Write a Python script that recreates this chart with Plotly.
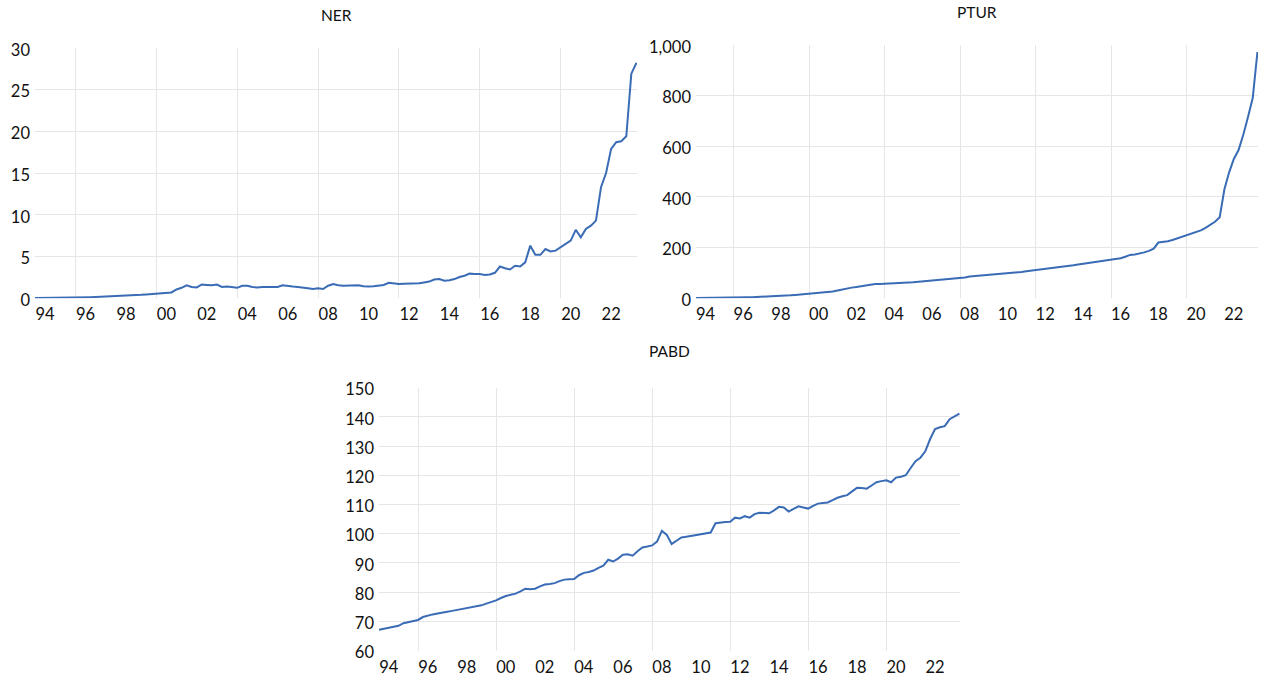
import plotly.graph_objects as go

# ---------------- data (quarterly) ----------------
years = list(range(1994, 2024))
quarters = [y + q / 4 for y in years for q in range(4)]

ner = [
    0.04, 0.04, 0.05, 0.05,   # 1994
    0.05, 0.06, 0.07, 0.08,   # 1995
    0.09, 0.10, 0.11, 0.12,   # 1996
    0.14, 0.16, 0.18, 0.20,   # 1997
    0.22, 0.25, 0.28, 0.32,   # 1998
    0.36, 0.41, 0.46, 0.51,   # 1999
    0.55, 0.60, 0.65, 0.70,   # 2000
    1.05, 1.25, 1.55, 1.35,   # 2001
    1.30, 1.65, 1.60, 1.55,   # 2002
    1.65, 1.35, 1.40, 1.35,   # 2003
    1.25, 1.50, 1.50, 1.35,   # 2004
    1.30, 1.35, 1.35, 1.35,   # 2005
    1.35, 1.55, 1.45, 1.40,   # 2006
    1.35, 1.30, 1.20, 1.10,   # 2007
    1.20, 1.10, 1.50, 1.70,   # 2008
    1.55, 1.50, 1.50, 1.50,   # 2009
    1.55, 1.45, 1.40, 1.45,   # 2010
    1.55, 1.60, 1.85, 1.80,   # 2011
    1.70, 1.75, 1.75, 1.75,   # 2012
    1.80, 1.90, 2.00, 2.25,   # 2013
    2.30, 2.10, 2.15, 2.30,   # 2014
    2.55, 2.70, 2.95, 2.90,   # 2015
    2.90, 2.80, 2.85, 3.05,   # 2016
    3.80, 3.60, 3.45, 3.90,   # 2017
    3.80, 4.30, 6.30, 5.20,   # 2018
    5.20, 5.90, 5.60, 5.70,   # 2019
    6.10, 6.60, 6.90, 8.20,   # 2020
    7.30, 8.30, 8.70, 9.30,   # 2021
    13.3, 15.0, 17.9, 18.7,   # 2022
    18.8, 19.4, 26.9, 28.2,   # 2023
]

ptur = [
    1.0, 1.0, 1.2, 1.4,       # 1994
    1.6, 1.8, 2.0, 2.3,       # 1995
    2.6, 3.0, 3.4, 3.9,       # 1996
    4.4, 5.0, 5.6, 6.3,       # 1997
    7.0, 8.0, 9.0, 10.0,      # 1998
    11.5, 13.0, 14.5, 16.0,   # 1999
    18.0, 19.5, 20.5, 22.0,   # 2000
    24.0, 27.0, 31.0, 35.0,   # 2001
    40.0, 42.0, 44.0, 47.0,   # 2002
    52.0, 54.0, 56.0, 56.5,   # 2003
    57.0, 58.0, 59.0, 60.0,   # 2004
    61.0, 62.0, 63.0, 64.5,   # 2005
    66.0, 68.0, 70.0, 71.5,   # 2006
    73.0, 74.5, 76.0, 77.5,   # 2007
    79.0, 82.0, 86.0, 87.5,   # 2008
    89.0, 90.0, 91.5, 93.0,   # 2009
    95.0, 97.0, 98.5, 100.0,  # 2010
    102.0, 104.0, 107.0, 109.0,  # 2011
    111.0, 113.0, 115.0, 117.0,  # 2012
    119.0, 122.0, 124.5, 127.0,  # 2013
    130.0, 133.0, 136.0, 139.0,  # 2014
    142.0, 144.5, 147.0, 150.0,  # 2015
    152.0, 155.0, 158.0, 164.0,  # 2016
    171.0, 173.0, 176.0, 181.0,  # 2017
    187.0, 196.0, 220.0, 222.0,  # 2018
    225.0, 230.0, 236.0, 242.0,  # 2019
    249.0, 254.0, 260.0, 268.0,  # 2020
    278.0, 290.0, 302.0, 320.0,  # 2021
    430.0, 497.0, 550.0, 585.0,  # 2022
    645.0, 715.0, 790.0, 972.0,  # 2023
]

pabd = [
    67.1, 67.5, 67.9, 68.3,   # 1994
    68.5, 69.4, 69.8, 70.2,   # 1995
    70.5, 71.5, 72.0, 72.4,   # 1996
    72.7, 73.1, 73.3, 73.6,   # 1997
    73.9, 74.1, 74.4, 74.7,   # 1998
    75.0, 75.5, 76.1, 76.6,   # 1999
    77.2, 78.0, 78.7, 79.1,   # 2000
    79.5, 80.3, 81.2, 81.0,   # 2001
    81.2, 82.0, 82.6, 82.8,   # 2002
    83.1, 83.8, 84.3, 84.4,   # 2003
    84.5, 85.8, 86.6, 86.9,   # 2004
    87.4, 88.3, 89.1, 91.1,   # 2005
    90.5, 91.5, 92.8, 93.0,   # 2006
    92.5, 94.0, 95.3, 95.6,   # 2007
    96.0, 97.3, 101.0, 99.6,  # 2008
    96.5, 97.6, 98.7, 99.0,   # 2009
    99.3, 99.6, 100.0, 100.2,  # 2010
    100.4, 103.6, 103.9, 104.0,  # 2011
    104.1, 105.5, 105.2, 106.0,  # 2012
    105.5, 106.7, 107.2, 107.1,  # 2013
    107.0, 108.0, 109.2, 109.0,  # 2014
    107.6, 108.5, 109.4, 109.0,  # 2015
    108.6, 109.5, 110.3, 110.5,  # 2016
    110.7, 111.5, 112.3, 112.8,  # 2017
    113.2, 114.5, 115.7, 115.6,  # 2018
    115.4, 116.5, 117.6, 118.0,  # 2019
    118.3, 117.6, 119.2, 119.5,  # 2020
    120.0, 122.5, 124.8, 126.0,  # 2021
    128.2, 132.4, 135.8, 136.4,  # 2022
    136.8, 139.2, 140.3, 141.1,  # 2023
]

tick_years = list(range(1994, 2024, 2))
tick_text = ["%02d" % (y % 100) for y in tick_years]
grid_years = list(range(1996, 2024, 4))

ner_ticks = [0, 5, 10, 15, 20, 25, 30]
ptur_ticks = [0, 200, 400, 600, 800, 1000]
pabd_ticks = [60, 70, 80, 90, 100, 110, 120, 130, 140, 150]

# ---------------- styling ----------------
W, H = 1267, 684
BLUE = "#3a6cb6"
GRID = "#e6e6e6"
FONT = "Lato"
TICKFONT = dict(family=FONT, size=16.5, color="#111111")


def px_x(p):
    return p / W


def px_y(p):
    return 1 - p / H


def xaxis(domain, anchor, standoff=4):
    return dict(
        domain=domain, anchor=anchor, range=[1994, 2023.78],
        tickmode="array", tickvals=[y + 0.5 for y in tick_years], ticktext=tick_text,
        showgrid=False, zeroline=False, showline=False, ticks="",
        tickfont=TICKFONT, ticklabelstandoff=standoff,
        minor=dict(tickmode="array", tickvals=grid_years, showgrid=True,
                   gridcolor=GRID, gridwidth=1, ticks=""),
    )


def yaxis(domain, anchor, ticks, rng, fmt=None):
    d = dict(
        domain=domain, anchor=anchor, range=rng,
        tickmode="array", tickvals=ticks,
        showgrid=False, zeroline=False, showline=False, ticks="",
        tickfont=TICKFONT, ticklabelstandoff=4, ticklabelshift=2,
        minor=dict(tickmode="array", tickvals=[t + 1e-7 for t in ticks[1:-1]],
                   showgrid=True, gridcolor=GRID, gridwidth=1, ticks=""),
    )
    if fmt:
        d["tickformat"] = fmt
    return d


fig = go.Figure()
line = dict(color=BLUE, width=2)
fig.add_trace(go.Scatter(x=quarters, y=ner, mode="lines", line=line, xaxis="x", yaxis="y", name="NER"))
fig.add_trace(go.Scatter(x=quarters, y=ptur, mode="lines", line=line, xaxis="x2", yaxis="y2", name="PTUR"))
fig.add_trace(go.Scatter(x=quarters, y=pabd, mode="lines", line=line, xaxis="x3", yaxis="y3", name="PABD"))

ner_dx = [px_x(35), px_x(637)]
ner_dy = [px_y(299), px_y(41)]
ptur_dx = [px_x(696), px_x(1258)]
ptur_dy = [px_y(299), px_y(38)]
pabd_dx = [px_x(379), px_x(960)]
pabd_dy = [px_y(662), px_y(391)]

fig.update_layout(
    width=W, height=H,
    margin=dict(l=0, r=0, t=0, b=0),
    paper_bgcolor="white", plot_bgcolor="white",
    showlegend=False,
    font=dict(family=FONT, color="#111111"),
    xaxis=xaxis(ner_dx, "y"),
    yaxis=yaxis(ner_dy, "x", ner_ticks, [0, 30]),
    xaxis2=xaxis(ptur_dx, "y2"),
    yaxis2=yaxis(ptur_dy, "x2", ptur_ticks, [0, 1000], ","),
    xaxis3=xaxis(pabd_dx, "y3", 5),
    yaxis3=yaxis(pabd_dy, "x3", pabd_ticks, [60, 150]),
)

titles = [("NER", ner_dx, 7), ("PTUR", ptur_dx, 4), ("PABD", pabd_dx, 353)]
for text, dx, ypix in titles:
    fig.add_annotation(
        text=text, xref="paper", yref="paper",
        x=(dx[0] + dx[1]) / 2, y=px_y(ypix),
        xanchor="center", yanchor="middle", showarrow=False,
        font=dict(family=FONT, size=15.5, color="#111111"),
    )

# remove the default 8px page margin so the figure fills the window exactly
fig.write_html(
    "out.html",
    config={"displayModeBar": False},
    post_script="document.body.style.margin='0px';document.body.style.overflow='hidden';",
)
